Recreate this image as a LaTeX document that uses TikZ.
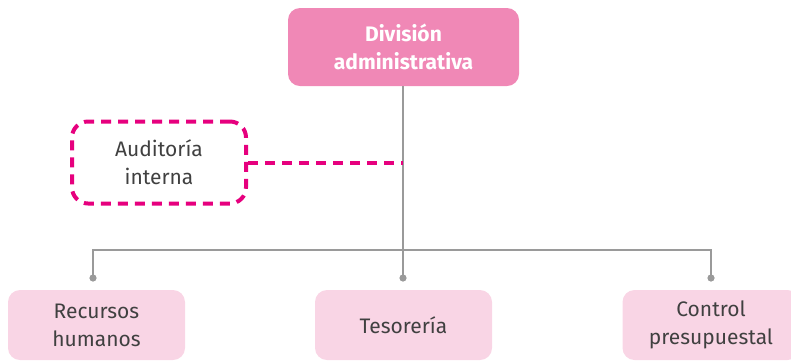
\documentclass[tikz,border=0pt]{standalone}
\usepackage{fontspec}
\setmainfont{Fira Sans}
\usetikzlibrary{calc}
\definecolor{rosa}{HTML}{F088B6}
\definecolor{rosaclaro}{HTML}{F9D5E5}
\definecolor{magenta}{HTML}{E6007E}
\definecolor{gris}{HTML}{9A9A9A}
\definecolor{texto}{HTML}{404040}
\tikzset{every node/.style={font=\fontsize{10.5}{14}\selectfont,align=center,text=texto},
  jefe/.style={fill=rosa,rounded corners=6pt,minimum width=115.5pt,minimum height=39pt,text=white,font=\fontsize{10.5}{14}\selectfont\bfseries},
  area/.style={fill=rosaclaro,rounded corners=6pt,minimum width=88.5pt,minimum height=35pt},
  asesor/.style={draw=magenta,line width=2pt,dash pattern=on 5pt off 3.5pt,rounded corners=8pt,minimum width=87pt,minimum height=41pt},
  link/.style={draw=gris,line width=1pt},dashlink/.style={draw=magenta,line width=2pt,dash pattern=on 5pt off 3.5pt}}

\begin{document}
\begin{tikzpicture}[x=0.5pt,y=-0.5pt]
\useasboundingbox (0,0) rectangle (791,361);\clip (0,0) rectangle (791,361);
\node[jefe] (div) at (403.5,47){División\\administrativa};
\node[asesor] (aud) at (159,162.5){Auditoría\\interna};
\node[area] (rh) at (96.5,325){Recursos\\humanos};
\node[area] (tes) at (403.5,325){Tesorería};
\node[area] (cp) at (711,325){Control\\presupuestal};
\coordinate (bar) at (403,250);
\coordinate (rhdot) at (93,278);\coordinate (tesdot) at (403,278);\coordinate (cpdot) at (711,278);
\draw[link] (div.south-|bar) -- (tesdot);
\draw[link] (rhdot) |- (bar) -| (cpdot);
\draw[dashlink] (aud.east) -- (aud.east-|bar);
\foreach \p in {rhdot,tesdot,cpdot} \fill[gris] (\p) circle (1.8pt);
\end{tikzpicture}
\end{document}
